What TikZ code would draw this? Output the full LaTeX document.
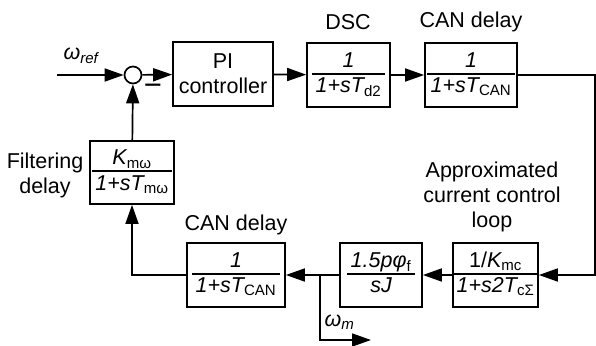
\documentclass[tikz,border=0pt]{standalone}
\usepackage{fontspec}
\setmainfont{Liberation Sans}
\usepackage{tikz}
\usetikzlibrary{arrows.meta}
\usetikzlibrary{positioning}

\setlength{\arrayrulewidth}{1.6pt}
\newcommand{\sbs}[1]{\textsubscript{\upshape #1}}
\newcommand{\blkfrac}[2]{\itshape\begin{tabular}{@{\,}c@{\,}}#1\\[-2pt]\hline\rule{0pt}{18pt}#2\end{tabular}}

\begin{document}
\begin{tikzpicture}[x=1pt,y=-1pt,
    every node/.style={font=\fontsize{21.5}{25}\selectfont},
    blk/.style={draw, line width=1.7pt, minimum height=64pt, inner sep=0pt, align=center},
    sig/.style={line width=1.7pt, -{Triangle[length=19pt,width=13pt]}},
    lbl/.style={align=center}]
    \useasboundingbox (0,0) rectangle (596,345);
    % forward path
    \node[draw, circle, line width=1.7pt, minimum size=17pt, inner sep=0pt] (sum) at (133,75) {};
    \node[font=\fontsize{31}{31}\selectfont, inner sep=0pt] (minus) at (153,90) {−};
    \node[blk, minimum width=100pt] (pi) at (223,74) {PI\\controller};
    \node[blk, minimum width=83pt] (dsc) at (348.5,75) {\blkfrac{1}{1+sT\sbs{d2}}};
    \node[blk, minimum width=92pt] (can1) at (471,75) {\blkfrac{1}{1+sT\sbs{CAN}}};
    \node[blk, minimum width=85pt] (cc) at (495.5,275) {\blkfrac{\upshape 1/\itshape K\sbs{mc}}{1+s2T\sbs{cΣ}}};
    \node[blk, minimum width=82pt] (plant) at (381,275) {\blkfrac{1.5pφ\sbs{f}}{sJ}};
    \node[blk, minimum width=98pt] (can2) at (236,275) {\blkfrac{1}{1+sT\sbs{CAN}}};
    \node[blk, minimum width=84pt, minimum height=63pt] (filt) at (132,172.5) {\blkfrac{K\sbs{mω}}{1+sT\sbs{mω}}};
    % labels
    \node (lref) at (81,56) {\itshape ω\textsubscript{ref}};
    \node (ldsc) at (348,22) {DSC};
    \node (lcan1) at (471,22) {CAN delay};
    \node (lcan2) at (236,225) {CAN delay};
    \node[lbl] (lfilt) at (45,175) {Filtering\\delay};
    \node[lbl] (lcc) at (492,197) {Approximated\\current control\\loop};
    \node[anchor=west] (lm) at (321,322) {\itshape ω\textsubscript{m}};
    % connectors
    \coordinate (in) at (57,75);
    \coordinate (rt) at (595,75);
    \coordinate (br) at (320,275);
    \coordinate (out) at (371,340);
    \draw[sig] (in) -- (sum);
    \draw[sig] (sum) -- (pi);
    \draw[sig] (pi) -- (dsc);
    \draw[sig] (dsc) -- (can1);
    \draw[sig] (can1.east) -- (rt) |- (cc.east);
    \draw[sig] (cc) -- (plant);
    \draw[sig] (plant) -- (can2);
    \draw[sig] (br) |- (out);
    \draw[sig] (can2.west) -| (filt.south);
    \draw[sig] (filt) -- (sum);
\end{tikzpicture}
\end{document}
